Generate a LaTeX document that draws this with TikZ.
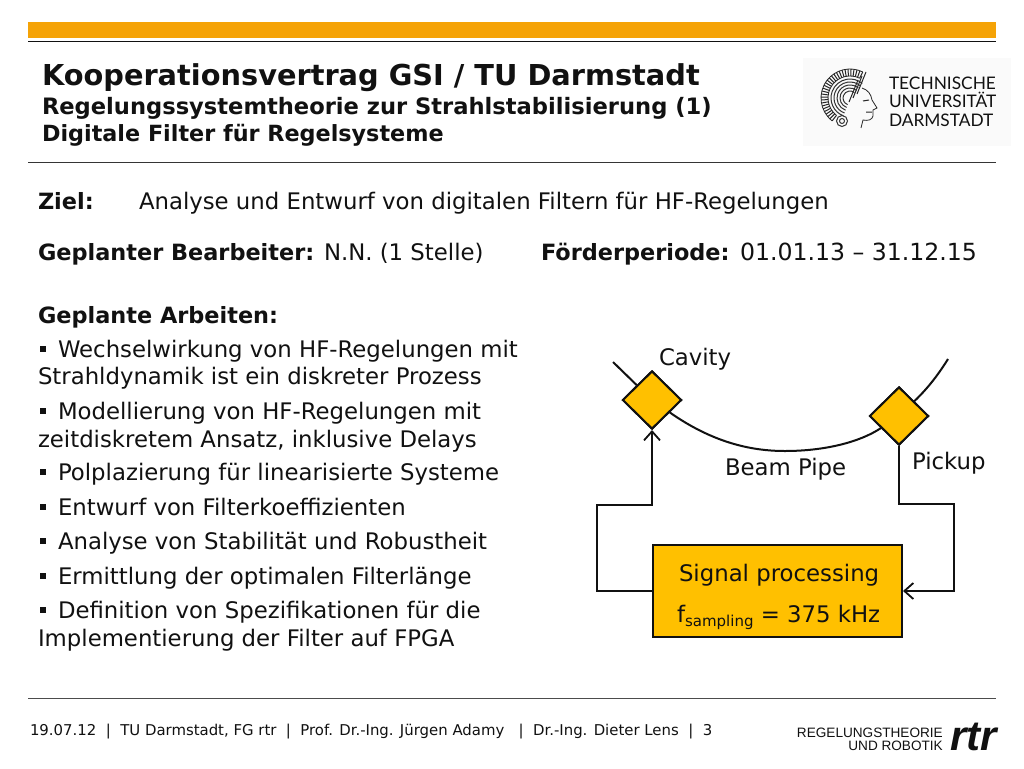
\documentclass[tikz,border=0pt]{standalone}
\usepackage{fontspec}
\setmainfont{DejaVu Sans}
\newfontfamily\logofont{Lato}
\newfontfamily\rtrfont{Liberation Sans}
\usetikzlibrary{shapes.geometric,arrows.meta}
\definecolor{barorange}{HTML}{F5A307}
\definecolor{boxyellow}{HTML}{FFC000}
\definecolor{ink}{HTML}{111111}
\tikzset{
 x=1pt,y=-1pt,
 txt/.style={anchor=base west,inner sep=0pt,outer sep=0pt,text=ink},
 bodytext/.style={txt,font=\fontsize{22.8}{26}\selectfont},
 boldtext/.style={txt,font=\fontsize{22.4}{26}\selectfont\bfseries},
 titletext/.style={txt,font=\fontsize{28.8}{32}\selectfont\bfseries},
 subtext/.style={txt,font=\fontsize{22.6}{26}\selectfont\bfseries},
 difftext/.style={txt,font=\fontsize{22.8}{26}\selectfont},
 foottext/.style={txt,font=\fontsize{14.9}{18}\selectfont},
 logotext/.style={txt,font=\fontsize{17.3}{20}\selectfont\logofont},
 rtrtext/.style={anchor=base east,inner sep=0pt,text=ink,font=\fontsize{13.6}{16}\selectfont\rtrfont},
 diamondbox/.style={diamond,draw=ink,fill=boxyellow,line width=2pt,aspect=1,inner sep=0pt,minimum width=59pt,minimum height=58pt},
 procbox/.style={rectangle,draw=ink,fill=boxyellow,line width=2pt,inner sep=0pt,minimum width=249pt,minimum height=92pt},
 wire/.style={draw=ink,line width=2pt},
 arrowwire/.style={wire,-{Straight Barb[length=9pt,width=16pt,line width=1.8pt]}},
 rule/.style={draw=#1,line width=1pt},
}
\newcommand{\bulletmark}[1]{\fill[ink] (40,#1-11) rectangle (46,#1-5);}
\begin{document}
\begin{tikzpicture}
\useasboundingbox (0,0) rectangle (1024,768);
\fill[white] (0,0) rectangle (1024,768);
% header
\fill[barorange] (28,22) rectangle (996,38);
\draw[ink,line width=1.6pt] (28,41.5) -- (996,41.5);
\draw[rule=ink!85] (28,162) -- (996,162);
\draw[rule=ink!75] (28,698.5) -- (996,698.5);
\fill[black!2] (803,58) rectangle (1011,146);
\node[titletext] (t1) at (42,85) {Kooperationsvertrag GSI / TU Darmstadt};
\node[subtext] (t2) at (42,114) {Regelungssystemtheorie zur Strahlstabilisierung (1)};
\node[subtext,font=\fontsize{22.3}{26}\selectfont\bfseries] (t3) at (42,141) {Digitale Filter für Regelsysteme};
% logo head
\foreach \a in {128,134,...,296}{\draw[black!85,line width=1pt] (850,98) ++(\a:22) -- ++(\a:7);}
\draw[black!85,line width=.8pt] (850,98) ++(128:29) arc (128:296:29);
\draw[black!85,line width=.8pt] (850,98) ++(128:22) arc (128:296:22);
\foreach \r in {7,10,13,16,19}{\draw[black!80,line width=1pt] (850,98) ++(110:\r) arc (110:310:\r);}
\draw[black!80,line width=1pt] (842,121) circle (2.5) circle (5.5);
\fill[black!2] (862,88) .. controls (868,90) and (871,94) .. (872,100) -- (877,108) -- (873,110) -- (873,116) .. controls (872,120) and (868,121) .. (863,120) -- (861,128) -- (849,133) .. controls (853,120) and (853,108) .. (852,100) .. controls (854,95) and (858,91) .. (862,88) -- cycle;
\draw[black!85,line width=.8pt] (862,88) .. controls (868,90) and (871,94) .. (872,100) -- (877,108) -- (873,110) -- (873,116) .. controls (872,120) and (868,121) .. (863,120) -- (861,128);
\draw[black!85,line width=1pt] (863,101) -- (869,100) (866,112) -- (872,112);
\foreach \o in {0,4,8}{\draw[black!85,line width=1pt] (866-\o,72+\o) -- (857-\o,94+\o);}
\node[logotext] (l1) at (889,89) {TECHNISCHE};
\node[logotext] (l2) at (889,107) {UNIVERSITÄT};
\node[logotext] (l3) at (889,126) {DARMSTADT};
% info lines
\node[boldtext] (ziel) at (38,209) {Ziel:};
\node[bodytext] (zieltxt) at (139,209) {Analyse und Entwurf von digitalen Filtern für HF-Regelungen};
\node[boldtext] (bearb) at (38,260) {Geplanter Bearbeiter:};
\node[bodytext] (nn) at (324,260) {N.N. (1 Stelle)};
\node[boldtext] (foerd) at (541,260) {Förderperiode:};
\node[bodytext,font=\fontsize{23.6}{26}\selectfont] (dates) at (740,260) {01.01.13 – 31.12.15};
\node[boldtext] (arb) at (38,323) {Geplante Arbeiten:};
% bullets
\bulletmark{357}\bulletmark{419}\bulletmark{480}\bulletmark{515}\bulletmark{549}\bulletmark{584}\bulletmark{618}
\node[bodytext] (b1) at (58,357) {Wechselwirkung von HF-Regelungen mit};
\node[bodytext] (b1b) at (38,384) {Strahldynamik ist ein diskreter Prozess};
\node[bodytext] (b2) at (58,419) {Modellierung von HF-Regelungen mit};
\node[bodytext] (b2b) at (38,447) {zeitdiskretem Ansatz, inklusive Delays};
\node[bodytext] (b3) at (58,480) {Polplazierung für linearisierte Systeme};
\node[bodytext] (b4) at (58,515) {Entwurf von Filterkoeffizienten};
\node[bodytext] (b5) at (58,549) {Analyse von Stabilität und Robustheit};
\node[bodytext] (b6) at (58,584) {Ermittlung der optimalen Filterlänge};
\node[bodytext] (b7) at (58,618) {Definition von Spezifikationen für die};
\node[bodytext] (b7b) at (38,646) {Implementierung der Filter auf FPGA};
% diagram
\coordinate (pipeL) at (613,362);
\coordinate (pipeR) at (948,359);
\node[diamondbox] (cavity) at (652,400) {};
\node[diamondbox] (pickup) at (899,416) {};
\node[procbox] (proc) at (777.5,591) {};
\draw[wire] (pipeL) -- (cavity);
\draw[wire] (cavity) .. controls (712,442) and (750,451) .. (785,451) .. controls (825,451) and (860,442) .. (pickup);
\draw[wire] (pickup) .. controls (928,388) and (938,375) .. (pipeR);
\node[diamondbox] at (cavity) {};
\node[diamondbox] at (pickup) {};
\draw[arrowwire] (proc.west) -- (597,591) -- (597,505) -- (652,505) -- (cavity.south);
\draw[arrowwire] (pickup.south) -- (899,504) -- (954,504) -- (954,591) -- (proc.east);
\node[difftext] (cav) at (659,365) {Cavity};
\node[difftext] (bp) at (725,475) {Beam Pipe};
\node[difftext] (pu) at (912,469) {Pickup};
\node[difftext] (sp) at (679,581) {Signal processing};
\node[difftext] (fs) at (677,622) {f\raisebox{-4pt}{\fontsize{15}{16}\selectfont sampling} = 375 kHz};
% footer
\node[foottext] (foot) at (30,735) {19.07.12\ \ |\ \ TU Darmstadt, FG rtr\ \ |\ \ Prof. Dr.-Ing. Jürgen Adamy\ \ \ |\ \ Dr.-Ing. Dieter Lens\ \ |\ \ 3};
\node[rtrtext] (r1) at (943,737) {REGELUNGSTHEORIE};
\node[rtrtext] (r2) at (943,750) {UND ROBOTIK};
\node[anchor=base east,inner sep=0pt,text=ink,font=\fontsize{42}{42}\selectfont\rtrfont\bfseries\itshape] (rtr) at (997,750) {rtr};
\end{tikzpicture}
\end{document}
